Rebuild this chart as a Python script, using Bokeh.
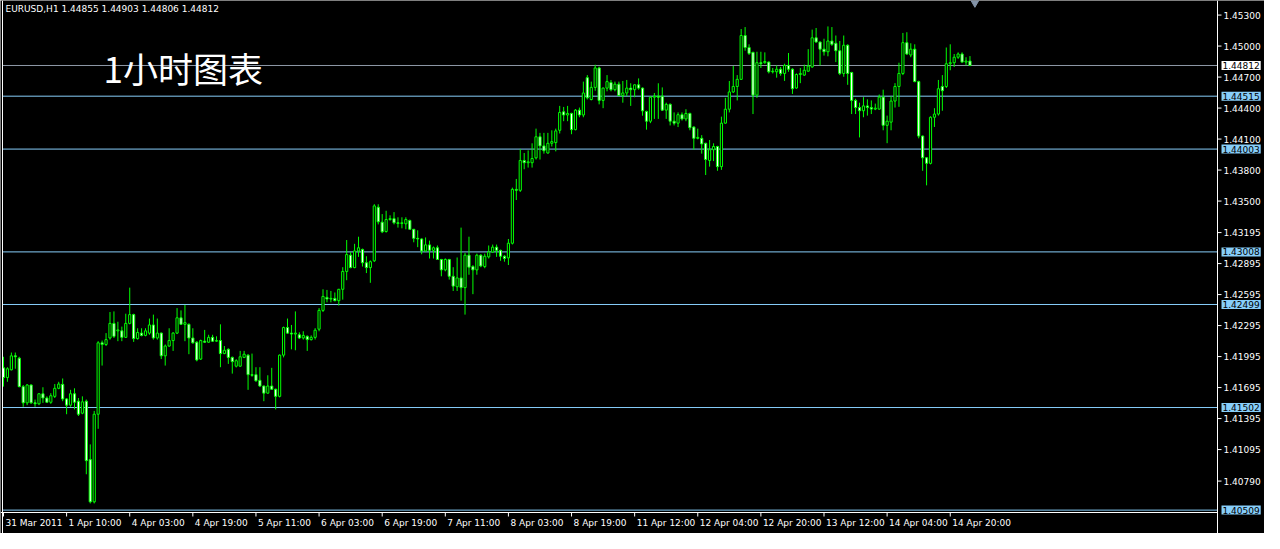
from bokeh.plotting import figure
from bokeh.models import ColumnDataSource, Span, Label, Range1d
from bokeh.core.properties import value
from bokeh.embed import file_html
from bokeh.resources import INLINE

symbol = "EURUSD,H1"
chart_caption = "1小时图表"

open_ = [
    1.41886, 1.41792, 1.41867, 1.42002, 1.41980, 1.41704, 1.41547, 1.41720, 1.41547, 1.41538,
    1.41635, 1.41594, 1.41553, 1.41610, 1.41688, 1.41726, 1.41585, 1.41525, 1.41635, 1.41563,
    1.41447, 1.41563, 1.40998, 1.40589, 1.41437, 1.42128, 1.42112, 1.42175, 1.42316, 1.42244,
    1.42244, 1.42181, 1.42316, 1.42401, 1.42169, 1.42222, 1.42200, 1.42222, 1.42301, 1.42175,
    1.42222, 1.42002, 1.42097, 1.42150, 1.42222, 1.42370, 1.42307, 1.42307, 1.42175, 1.42134,
    1.41971, 1.42144, 1.42134, 1.42181, 1.42144, 1.42150, 1.42024, 1.42065, 1.41987, 1.41902,
    1.41902, 1.41987, 1.42009, 1.41820, 1.41820, 1.41765, 1.41710, 1.41641, 1.41710, 1.41679,
    1.41610, 1.42009, 1.42276, 1.42222, 1.42213, 1.42206, 1.42175, 1.42191, 1.42159, 1.42181,
    1.42260, 1.42442, 1.42568, 1.42552, 1.42558, 1.42536, 1.42646, 1.42819, 1.42976, 1.42856,
    1.43017, 1.43032, 1.42903, 1.42856, 1.42922, 1.43440, 1.43296, 1.43205, 1.43321, 1.43330,
    1.43290, 1.43283, 1.43280, 1.43312, 1.43227, 1.43139, 1.43133, 1.43017, 1.43076, 1.43023,
    1.43048, 1.42935, 1.42834, 1.42935, 1.42772, 1.42671, 1.42756, 1.42662, 1.42976, 1.42866,
    1.42834, 1.42976, 1.42866, 1.42960, 1.43007, 1.43054, 1.43023, 1.42966, 1.42950, 1.43092,
    1.43613, 1.43604, 1.43893, 1.43871, 1.43871, 1.43918, 1.44122, 1.44034, 1.43965, 1.44059,
    1.44066, 1.44185, 1.44364, 1.44333, 1.44348, 1.44191, 1.44380, 1.44333, 1.44694, 1.44483,
    1.44600, 1.44788, 1.44474, 1.44593, 1.44647, 1.44578, 1.44631, 1.44521, 1.44546, 1.44593,
    1.44578, 1.44625, 1.44593, 1.44367, 1.44273, 1.44505, 1.44515, 1.44515, 1.44380, 1.44436,
    1.44273, 1.44254, 1.44336, 1.44295, 1.44348, 1.44216, 1.44107, 1.44107, 1.44059, 1.43893,
    1.43997, 1.44028, 1.43833, 1.44254, 1.44389, 1.44556, 1.44609, 1.44678, 1.45102, 1.44986,
    1.44939, 1.44525, 1.44839, 1.44839, 1.44845, 1.44751, 1.44751, 1.44776, 1.44735, 1.44813,
    1.44776, 1.44594, 1.44725, 1.44719, 1.44757, 1.44798, 1.45080, 1.45039, 1.44970, 1.44945,
    1.45049, 1.45027, 1.44955, 1.44735, 1.45008, 1.44744, 1.44474, 1.44405, 1.44374, 1.44421,
    1.44405, 1.44390, 1.44390, 1.44506, 1.44233, 1.44264, 1.44468, 1.44609, 1.44735, 1.45033,
    1.44914, 1.44970, 1.44656, 1.44129, 1.43919, 1.43865, 1.44311, 1.44342, 1.44609, 1.44609,
    1.44829, 1.44839, 1.44892, 1.44923, 1.44845, 1.44855,
]

high = [
    1.41993, 1.41892, 1.42034, 1.42034, 1.41993, 1.41720, 1.41729, 1.41726, 1.41579, 1.41641,
    1.41698, 1.41610, 1.41641, 1.41729, 1.41751, 1.41783, 1.41594, 1.41673, 1.41688, 1.41594,
    1.41610, 1.41579, 1.41145, 1.41469, 1.42144, 1.42150, 1.42222, 1.42426, 1.42432, 1.42332,
    1.42285, 1.42410, 1.42662, 1.42410, 1.42269, 1.42269, 1.42269, 1.42363, 1.42401, 1.42363,
    1.42228, 1.42112, 1.42269, 1.42232, 1.42464, 1.42442, 1.42495, 1.42316, 1.42269, 1.42144,
    1.42159, 1.42253, 1.42206, 1.42206, 1.42191, 1.42307, 1.42097, 1.42075, 1.41995, 1.41970,
    1.42050, 1.42050, 1.42018, 1.42024, 1.41892, 1.41892, 1.41715, 1.41814, 1.41886, 1.41685,
    1.42015, 1.42285, 1.42363, 1.42301, 1.42432, 1.42230, 1.42240, 1.42200, 1.42200, 1.42270,
    1.42464, 1.42646, 1.42640, 1.42630, 1.42615, 1.42650, 1.42860, 1.43123, 1.43007, 1.43086,
    1.43155, 1.43040, 1.42966, 1.42925, 1.43470, 1.43469, 1.43374, 1.43406, 1.43362, 1.43393,
    1.43343, 1.43343, 1.43343, 1.43321, 1.43230, 1.43217, 1.43140, 1.43148, 1.43117, 1.43060,
    1.43070, 1.42940, 1.42945, 1.42940, 1.42860, 1.42954, 1.43243, 1.42998, 1.43155, 1.42880,
    1.42991, 1.42985, 1.42991, 1.43070, 1.43079, 1.43079, 1.43030, 1.42976, 1.43133, 1.43630,
    1.43714, 1.44003, 1.43965, 1.43990, 1.44059, 1.44201, 1.44160, 1.44160, 1.44160, 1.44185,
    1.44201, 1.44421, 1.44411, 1.44421, 1.44355, 1.44390, 1.44405, 1.44656, 1.44719, 1.44656,
    1.44819, 1.44800, 1.44600, 1.44719, 1.44672, 1.44656, 1.44656, 1.44662, 1.44672, 1.44640,
    1.44631, 1.44687, 1.44600, 1.44375, 1.44515, 1.44546, 1.44640, 1.44600, 1.44452, 1.44445,
    1.44358, 1.44358, 1.44358, 1.44389, 1.44355, 1.44225, 1.44201, 1.44138, 1.44065, 1.44091,
    1.44059, 1.44035, 1.44317, 1.44499, 1.44662, 1.44807, 1.44719, 1.45165, 1.45184, 1.45017,
    1.44945, 1.44945, 1.44945, 1.44939, 1.44851, 1.44788, 1.44813, 1.44798, 1.44829, 1.44933,
    1.44785, 1.44735, 1.44788, 1.44820, 1.44970, 1.45159, 1.45175, 1.45045, 1.45071, 1.45190,
    1.45184, 1.45102, 1.45049, 1.45102, 1.45017, 1.44751, 1.44490, 1.44452, 1.44506, 1.44484,
    1.44474, 1.44443, 1.44531, 1.44578, 1.44327, 1.44515, 1.44641, 1.44839, 1.45127, 1.45134,
    1.45027, 1.45017, 1.44665, 1.44135, 1.43925, 1.44320, 1.44399, 1.44672, 1.44719, 1.44986,
    1.45017, 1.44923, 1.44939, 1.44939, 1.44892, 1.44903,
]

low = [
    1.41704, 1.41751, 1.41861, 1.41877, 1.41698, 1.41509, 1.41525, 1.41538, 1.41509, 1.41525,
    1.41547, 1.41547, 1.41538, 1.41594, 1.41679, 1.41563, 1.41437, 1.41509, 1.41484, 1.41420,
    1.41437, 1.40856, 1.40574, 1.40574, 1.41296, 1.41908, 1.42097, 1.42159, 1.42175, 1.42144,
    1.42144, 1.42175, 1.42307, 1.42137, 1.42159, 1.42191, 1.42191, 1.42206, 1.42159, 1.42159,
    1.41971, 1.41908, 1.42090, 1.42050, 1.42213, 1.42301, 1.42144, 1.42018, 1.42120, 1.41949,
    1.41962, 1.42128, 1.42128, 1.42137, 1.42137, 1.41892, 1.42018, 1.41924, 1.41830, 1.41890,
    1.41895, 1.41980, 1.41673, 1.41800, 1.41751, 1.41700, 1.41563, 1.41635, 1.41673, 1.41484,
    1.41600, 1.41987, 1.42215, 1.42065, 1.42056, 1.42165, 1.42160, 1.42050, 1.42150, 1.42160,
    1.42240, 1.42426, 1.42520, 1.42520, 1.42530, 1.42489, 1.42546, 1.42734, 1.42850, 1.42850,
    1.42960, 1.42866, 1.42803, 1.42709, 1.42910, 1.43274, 1.43190, 1.43195, 1.43310, 1.43274,
    1.43243, 1.43236, 1.43227, 1.43220, 1.43101, 1.43054, 1.42985, 1.43010, 1.42944, 1.42944,
    1.42930, 1.42772, 1.42820, 1.42740, 1.42630, 1.42630, 1.42536, 1.42401, 1.42787, 1.42599,
    1.42787, 1.42860, 1.42850, 1.42944, 1.43000, 1.42960, 1.42922, 1.42913, 1.42881, 1.43080,
    1.43510, 1.43588, 1.43808, 1.43824, 1.43824, 1.43902, 1.43902, 1.43959, 1.43959, 1.44028,
    1.43981, 1.44154, 1.44273, 1.44273, 1.44147, 1.44185, 1.44311, 1.44311, 1.44483, 1.44474,
    1.44568, 1.44436, 1.44399, 1.44562, 1.44562, 1.44562, 1.44515, 1.44452, 1.44515, 1.44421,
    1.44505, 1.44578, 1.44326, 1.44191, 1.44254, 1.44295, 1.44295, 1.44373, 1.44295, 1.44232,
    1.44232, 1.44216, 1.44279, 1.44273, 1.44185, 1.43997, 1.44097, 1.43959, 1.43752, 1.43833,
    1.43887, 1.43793, 1.43802, 1.44248, 1.44358, 1.44546, 1.44474, 1.44672, 1.44955, 1.44914,
    1.44342, 1.44499, 1.44788, 1.44829, 1.44735, 1.44735, 1.44694, 1.44713, 1.44663, 1.44751,
    1.44537, 1.44587, 1.44641, 1.44713, 1.44751, 1.44790, 1.45033, 1.44813, 1.44908, 1.44901,
    1.45002, 1.44845, 1.44719, 1.44703, 1.44625, 1.44342, 1.44342, 1.44116, 1.44311, 1.44327,
    1.44342, 1.44380, 1.44385, 1.44185, 1.44060, 1.44185, 1.44405, 1.44412, 1.44719, 1.44914,
    1.44892, 1.44650, 1.44107, 1.43793, 1.43652, 1.43855, 1.44217, 1.44327, 1.44374, 1.44594,
    1.44766, 1.44798, 1.44876, 1.44839, 1.44813, 1.44806,
]

close = [
    1.41792, 1.41877, 1.42002, 1.41993, 1.41704, 1.41547, 1.41720, 1.41547, 1.41538, 1.41635,
    1.41594, 1.41553, 1.41616, 1.41688, 1.41729, 1.41585, 1.41525, 1.41635, 1.41553, 1.41437,
    1.41557, 1.40988, 1.40589, 1.41437, 1.42128, 1.42112, 1.42159, 1.42316, 1.42191, 1.42253,
    1.42181, 1.42316, 1.42401, 1.42169, 1.42228, 1.42200, 1.42244, 1.42301, 1.42175, 1.42222,
    1.42002, 1.42097, 1.42150, 1.42222, 1.42370, 1.42307, 1.42323, 1.42175, 1.42128, 1.41962,
    1.42150, 1.42134, 1.42181, 1.42144, 1.42150, 1.42024, 1.42056, 1.41987, 1.41946, 1.41955,
    1.41993, 1.42018, 1.41820, 1.41814, 1.41761, 1.41710, 1.41641, 1.41710, 1.41679, 1.41610,
    1.42009, 1.42276, 1.42222, 1.42213, 1.42222, 1.42175, 1.42200, 1.42159, 1.42181, 1.42250,
    1.42442, 1.42577, 1.42552, 1.42558, 1.42536, 1.42646, 1.42819, 1.42982, 1.42856, 1.43017,
    1.43048, 1.42903, 1.42856, 1.42913, 1.43453, 1.43299, 1.43202, 1.43321, 1.43330, 1.43290,
    1.43283, 1.43290, 1.43321, 1.43227, 1.43139, 1.43133, 1.43017, 1.43076, 1.43023, 1.43048,
    1.42935, 1.42834, 1.42935, 1.42772, 1.42677, 1.42756, 1.42662, 1.42976, 1.42860, 1.42834,
    1.42976, 1.42872, 1.42966, 1.43007, 1.43054, 1.43023, 1.42966, 1.42944, 1.43092, 1.43613,
    1.43604, 1.43893, 1.43871, 1.43880, 1.43912, 1.44122, 1.44034, 1.43987, 1.44059, 1.44075,
    1.44179, 1.44358, 1.44333, 1.44348, 1.44191, 1.44380, 1.44333, 1.44546, 1.44499, 1.44600,
    1.44788, 1.44474, 1.44593, 1.44656, 1.44578, 1.44631, 1.44521, 1.44546, 1.44593, 1.44578,
    1.44625, 1.44593, 1.44373, 1.44273, 1.44505, 1.44515, 1.44505, 1.44380, 1.44436, 1.44273,
    1.44254, 1.44336, 1.44295, 1.44348, 1.44210, 1.44107, 1.44116, 1.44053, 1.43902, 1.43997,
    1.44028, 1.43833, 1.44254, 1.44389, 1.44556, 1.44609, 1.44678, 1.45102, 1.44986, 1.44929,
    1.44525, 1.44839, 1.44829, 1.44851, 1.44751, 1.44757, 1.44776, 1.44735, 1.44813, 1.44776,
    1.44587, 1.44725, 1.44735, 1.44766, 1.44807, 1.45080, 1.45039, 1.44970, 1.44945, 1.45049,
    1.45017, 1.44955, 1.44735, 1.45008, 1.44735, 1.44474, 1.44405, 1.44374, 1.44421, 1.44405,
    1.44390, 1.44399, 1.44506, 1.44233, 1.44273, 1.44468, 1.44609, 1.44735, 1.45033, 1.44923,
    1.44970, 1.44656, 1.44129, 1.43919, 1.43865, 1.44311, 1.44342, 1.44587, 1.44568, 1.44829,
    1.44839, 1.44892, 1.44923, 1.44845, 1.44855, 1.44812,
]

time_labels = ["31 Mar 2011", "1 Apr 10:00", "4 Apr 03:00", "4 Apr 19:00", "5 Apr 11:00",
               "6 Apr 03:00", "6 Apr 19:00", "7 Apr 11:00", "8 Apr 03:00", "8 Apr 19:00",
               "11 Apr 12:00", "12 Apr 04:00", "12 Apr 20:00", "13 Apr 12:00", "14 Apr 04:00",
               "14 Apr 20:00"]
time_label_bars = [0, 16, 32, 48, 64, 80, 96, 112, 128, 144, 160, 176, 192, 208, 224, 240]

price_ticks = [1.45300, 1.45000, 1.44700, 1.44400, 1.44100, 1.43800, 1.43500, 1.43195,
               1.42895, 1.42595, 1.42295, 1.41995, 1.41695, 1.41395, 1.41095, 1.40790]

level_prices = [1.44812, 1.44515, 1.44003, 1.43008, 1.42499, 1.41502, 1.40509]
level_line_colors = ["#8e98a6", "#87cefa", "#87cefa", "#87cefa", "#87cefa", "#87cefa", "#87cefa"]
level_box_colors = ["#ffffff", "#87cefa", "#87cefa", "#87cefa", "#87cefa", "#87cefa", "#87cefa"]

# ------------------------------------------------------------------ layout
FONT = "DejaVu Sans"
GREEN = "#00ff00"
W, H = 1264, 533
LEFT_PX, RIGHT_PX, BOTTOM_PX = 2, 47, 21
N_SLOTS = 308                       # bar slots visible in the chart window
chart_x0 = -0.25                    # left frame line (bar units)
chart_x1 = chart_x0 + N_SLOTS       # right frame line
chart_y0, chart_y1 = 1.40486, 1.45441   # price at bottom frame line / top edge

ppb = (W - LEFT_PX - RIGHT_PX) / N_SLOTS          # pixels per bar
ppu = (H - BOTTOM_PX) / (chart_y1 - chart_y0)     # pixels per price unit

def dx(px):
    return px / ppb

def dy(px):
    return px / ppu

n = len(close)
idx = list(range(n))
src = ColumnDataSource(dict(
    x=idx, high=high, low=low,
    top=[max(o, c) for o, c in zip(open_, close)],
    bottom=[min(o, c) for o, c in zip(open_, close)],
    fill=["#ffffff" if c < o else "#000000" for o, c in zip(open_, close)],
))

p = figure(width=W, height=H, output_backend="svg", toolbar_location=None,
           x_range=Range1d(chart_x0 - dx(LEFT_PX), chart_x1 + dx(RIGHT_PX)),
           y_range=Range1d(chart_y0 - dy(BOTTOM_PX), chart_y1),
           x_axis_location=None, y_axis_location=None,
           background_fill_color="black", border_fill_color="black",
           min_border_left=0, min_border_right=0, min_border_top=0, min_border_bottom=0)
p.grid.visible = False
p.outline_line_color = None

# chart frame
p.add_layout(Span(location=chart_x0, dimension="height", line_color="white", line_width=1))
p.add_layout(Span(location=chart_x1, dimension="height", line_color="white", line_width=1))
p.segment(x0=[chart_x0 - dx(LEFT_PX)], y0=[chart_y0], x1=[chart_x1], y1=[chart_y0],
          line_color="white", line_width=1)

# horizontal price levels (stop at the right frame line)
p.segment(x0=[chart_x0] * len(level_prices), y0=level_prices,
          x1=[chart_x1] * len(level_prices), y1=level_prices,
          line_color=level_line_colors, line_width=1)

# chart-shift marker at the top edge, just right of the last bar
p.scatter(x=[n + 0.25], y=[chart_y1 + dy(3)], marker="inverted_triangle", size=17,
          fill_color="#8494a8", line_color="#8494a8")

# candles
p.segment(x0="x", y0="low", x1="x", y1="high", source=src, line_color=GREEN, line_width=1)
p.vbar(x="x", width=0.55, top="top", bottom="bottom", source=src,
       fill_color="fill", line_color=GREEN, line_width=1)

# right price scale: tick marks + labels
nt = len(price_ticks)
p.segment(x0=[chart_x1] * nt, y0=price_ticks, x1=[chart_x1 + dx(4)] * nt, y1=price_ticks,
          line_color="white", line_width=1)
p.text(x=[chart_x1 + dx(6)] * nt, y=price_ticks, text=[f"{t:.5f}" for t in price_ticks],
       text_font=value(FONT), text_font_size=value("9px"), text_color="white",
       text_align="left", text_baseline="middle")

# price boxes on the scale
for lp, bc in zip(level_prices, level_box_colors):
    p.add_layout(Label(x=chart_x1 + dx(4), y=lp, text=f"{lp:.5f}",
                       text_align="left", text_baseline="middle",
                       text_font=FONT, text_font_size="9px", text_color="black",
                       background_fill_color=bc, padding=1))

# bottom time scale: tick marks + labels
nb = len(time_label_bars)
p.segment(x0=time_label_bars, y0=[chart_y0] * nb, x1=time_label_bars, y1=[chart_y0 - dy(4)] * nb,
          line_color="white", line_width=1)
p.text(x=[b + dx(2) for b in time_label_bars], y=[chart_y0 - dy(5)] * nb, text=time_labels,
       text_font=value(FONT), text_font_size=value("9px"), text_color="white",
       text_align="left", text_baseline="top")

# header text
header = f"{symbol}  {open_[-1]:.5f} {high[-1]:.5f} {low[-1]:.5f} {close[-1]:.5f}"
p.add_layout(Label(x=chart_x0 + dx(3), y=chart_y1 - dy(3), text=header,
                   text_align="left", text_baseline="top",
                   text_font=FONT, text_font_size="9px", text_color="white"))

# big caption
p.add_layout(Label(x=chart_x0 + dx(101), y=chart_y1 - dy(67), text=chart_caption,
                   text_align="left", text_baseline="middle",
                   text_font="Noto Sans CJK SC", text_font_size="35px", text_color="white"))

open("out.html", "w").write(file_html(p, INLINE))
